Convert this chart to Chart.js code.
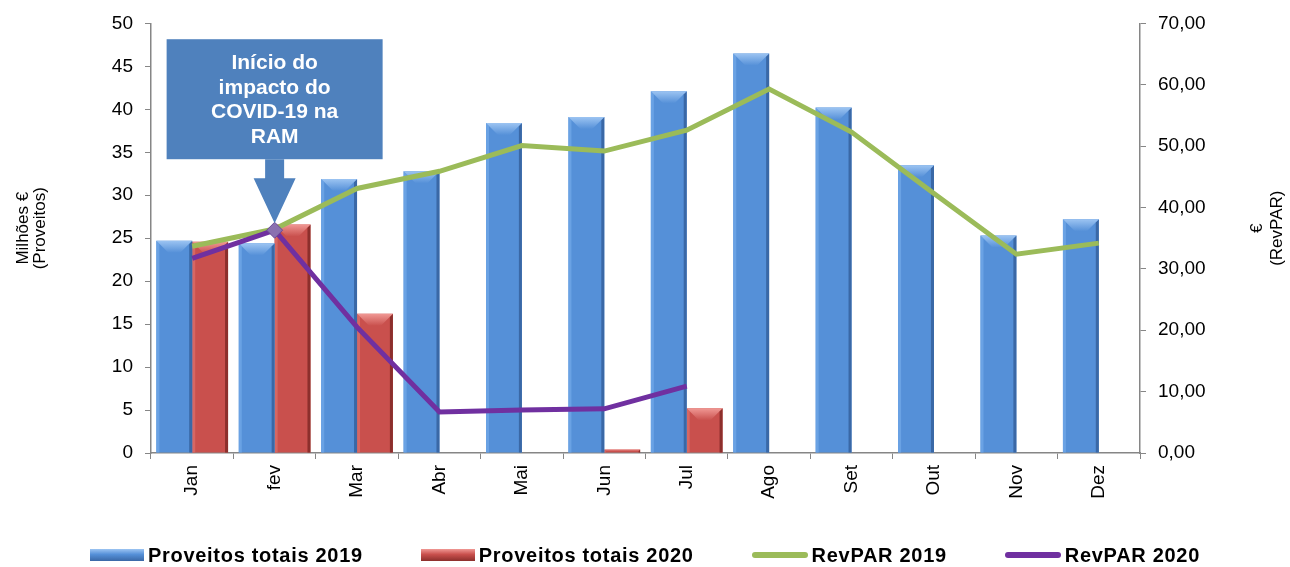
<!DOCTYPE html>
<html>
<head>
<meta charset="utf-8">
<script src="https://cdn.jsdelivr.net/npm/chart.js@4.4.0/dist/chart.umd.min.js"></script>
<style>
  body { margin: 0; background: #fff; }
  #wrap { position: relative; width: 1290px; height: 567px; }
  #legenda {
    position: absolute; left: 0; top: 543px; width: 1290px; height: 24px;
    display: flex; justify-content: center; gap: 58px;
    font: bold 20px Arial, "Liberation Sans", sans-serif; color: #000; line-height: 24px;
    letter-spacing: 0.7px;
  }
  .item { display: flex; align-items: center; }
  .caixa { width: 54px; height: 12px; margin-right: 4px; }
  .linha { width: 56px; height: 6px; border-radius: 3px; margin-right: 4px; }
</style>
</head>
<body>
<div id="wrap">
  <canvas id="grafico" width="1290" height="567"></canvas>
  <div id="legenda">
    <div class="item"><span class="caixa" style="background:linear-gradient(#9cc4f2,#5590d8 45%,#3a68a6)"></span>Proveitos totais 2019</div>
    <div class="item"><span class="caixa" style="background:linear-gradient(#f09894,#c9504d 45%,#8c2f2c)"></span>Proveitos totais 2020</div>
    <div class="item"><span class="linha" style="background:#9bbb59"></span>RevPAR 2019</div>
    <div class="item"><span class="linha" style="background:#7030a0"></span>RevPAR 2020</div>
  </div>
</div>
<script>
// Dados
var meses = ["Jan", "fev", "Mar", "Abr", "Mai", "Jun", "Jul", "Ago", "Set", "Out", "Nov", "Dez"];
var proveitos2019 = [24.7, 24.4, 31.9, 32.8, 38.4, 39.1, 42.1, 46.5, 40.2, 33.5, 25.3, 27.2];
var proveitos2020 = [24.6, 26.6, 16.2, null, null, 0.4, 5.2, null, null, null, null, null];
var revpar2019 = [33.7, 36.5, 43.1, 45.9, 50.1, 49.2, 52.6, 59.3, 52.3, 42.3, 32.4, 34.2];
var revpar2020 = [31.7, 36.3, 20.5, 6.7, 7.0, 7.2, 10.9, null, null, null, null, null];
var ticksProveitos = [0, 5, 10, 15, 20, 25, 30, 35, 40, 45, 50];
var ticksRevpar = [0, 10, 20, 30, 40, 50, 60, 70];
var textoAnotacao = ["Início do", "impacto do", "COVID-19 na", "RAM"];

var fonte = 'Arial, "Liberation Sans", sans-serif';
var corEixo = "#868686";

// Cores do relevo das barras (topo claro, lado esquerdo, lado direito escuro)
var coresRelevo = [
  { topo: "#9cc4f2", esq: "#6aa2e4", dir: "#3a68a6", base: "#5590d8" },
  { topo: "#f09894", esq: "#d66763", dir: "#8c2f2c", base: "#c9504d" },
];

var relevo = {
  id: "relevo",
  afterDatasetDraw: function (chart, args) {
    if (args.meta.type !== "bar") return;
    var c = coresRelevo[args.index];
    var ctx = chart.ctx;
    args.meta.data.forEach(function (bar) {
      var p = bar.getProps(["x", "y", "base", "width"], true);
      if (isNaN(p.y) || isNaN(p.base)) return;
      var alt = p.base - p.y;
      if (alt < 1) return;
      var esq = p.x - p.width / 2;
      var dir = p.x + p.width / 2;
      var topo = p.y;
      var d = Math.min(12, alt / 2);
      var s = Math.min(3, alt / 2);
      ctx.save();
      // lado esquerdo
      ctx.fillStyle = c.esq;
      ctx.beginPath();
      ctx.moveTo(esq, topo);
      ctx.lineTo(esq + s, topo + s);
      ctx.lineTo(esq + s, p.base);
      ctx.lineTo(esq, p.base);
      ctx.closePath();
      ctx.fill();
      // lado direito
      ctx.fillStyle = c.dir;
      ctx.beginPath();
      ctx.moveTo(dir, topo);
      ctx.lineTo(dir, p.base);
      ctx.lineTo(dir - s, p.base);
      ctx.lineTo(dir - s, topo + s);
      ctx.closePath();
      ctx.fill();
      // topo
      var g = ctx.createLinearGradient(0, topo, 0, topo + d);
      g.addColorStop(0, c.topo);
      g.addColorStop(1, c.base);
      ctx.fillStyle = g;
      ctx.beginPath();
      ctx.moveTo(esq, topo);
      ctx.lineTo(dir, topo);
      ctx.lineTo(dir - d, topo + d);
      ctx.lineTo(esq + d, topo + d);
      ctx.closePath();
      ctx.fill();
      ctx.restore();
    });
  },
};

// Caixa com seta apontando para fev 2020
var anotacao = {
  id: "anotacao",
  afterDatasetsDraw: function (chart) {
    var ponto = chart.getDatasetMeta(3).data[1];
    var px = ponto.x;
    var ponta = ponto.y - 7;
    var baseCaixa = ponta - 64;
    var topoCaixa = baseCaixa - 120;
    var larg = 216;
    var ctx = chart.ctx;
    ctx.save();
    ctx.fillStyle = "#4f81bd";
    ctx.fillRect(px - larg / 2, topoCaixa, larg, 120);
    ctx.beginPath();
    ctx.moveTo(px - 9.5, baseCaixa);
    ctx.lineTo(px + 9.5, baseCaixa);
    ctx.lineTo(px + 9.5, ponta - 45);
    ctx.lineTo(px + 21, ponta - 45);
    ctx.lineTo(px, ponta);
    ctx.lineTo(px - 21, ponta - 45);
    ctx.lineTo(px - 9.5, ponta - 45);
    ctx.closePath();
    ctx.fill();
    ctx.fillStyle = "#fff";
    ctx.font = "bold 21px " + fonte;
    ctx.textAlign = "center";
    ctx.textBaseline = "middle";
    var meio = topoCaixa + 61;
    for (var i = 0; i < textoAnotacao.length; i++) {
      ctx.fillText(textoAnotacao[i], px, meio + (i - 1.5) * 24.7);
    }
    ctx.restore();
  },
};

// Títulos dos eixos (rodados, lidos de baixo para cima)
var titulos = {
  id: "titulos",
  afterDraw: function (chart) {
    var ctx = chart.ctx;
    var cy = (chart.chartArea.top + chart.chartArea.bottom) / 2 - 10;
    function escrever(texto, x) {
      ctx.save();
      ctx.translate(x, cy);
      ctx.rotate(-Math.PI / 2);
      ctx.fillStyle = "#000";
      ctx.font = "17px " + fonte;
      ctx.textAlign = "center";
      ctx.textBaseline = "middle";
      ctx.fillText(texto, 0, 0);
      ctx.restore();
    }
    escrever("Milhões €", 23);
    escrever("(Proveitos)", 40);
    escrever("€", 1257);
    escrever("(RevPAR)", 1277);
  },
};

var ctx = document.getElementById("grafico").getContext("2d");

new Chart(ctx, {
  data: {
    labels: meses,
    datasets: [
      {
        type: "bar",
        label: "Proveitos totais 2019",
        data: proveitos2019,
        backgroundColor: coresRelevo[0].base,
        yAxisID: "y",
        order: 2,
        categoryPercentage: 0.87,
        barPercentage: 1,
      },
      {
        type: "bar",
        label: "Proveitos totais 2020",
        data: proveitos2020,
        backgroundColor: coresRelevo[1].base,
        yAxisID: "y",
        order: 2,
        categoryPercentage: 0.87,
        barPercentage: 1,
      },
      {
        type: "line",
        label: "RevPAR 2019",
        data: revpar2019,
        borderColor: "#9bbb59",
        borderWidth: 5,
        pointRadius: 0,
        tension: 0,
        yAxisID: "y1",
        order: 1,
      },
      {
        type: "line",
        label: "RevPAR 2020",
        data: revpar2020,
        borderColor: "#7030a0",
        borderWidth: 5,
        tension: 0,
        pointStyle: "rectRot",
        pointRadius: function (c) {
          return c.dataIndex === 1 ? 8 : 0;
        },
        pointBackgroundColor: "#8a70b0",
        pointBorderColor: "#6a4a96",
        pointBorderWidth: 1,
        yAxisID: "y1",
        order: 0,
      },
    ],
  },
  options: {
    responsive: false,
    animation: false,
    devicePixelRatio: 1,
    layout: {
      padding: { top: 23, bottom: 30, left: 0, right: 0 },
    },
    plugins: {
      legend: { display: false },
      tooltip: { enabled: false },
    },
    scales: {
      x: {
        offset: true,
        grid: {
          offset: true,
          drawOnChartArea: false,
          drawTicks: true,
          tickLength: 6,
          tickColor: corEixo,
        },
        border: { color: corEixo, width: 1.5 },
        ticks: {
          color: "#000",
          font: { family: fonte, size: 19 },
          maxRotation: 90,
          minRotation: 90,
          padding: 6,
          autoSkip: false,
        },
        afterFit: function (scale) {
          scale.height = 84;
        },
      },
      y: {
        position: "left",
        min: 0,
        max: 50,
        afterBuildTicks: function (scale) {
          scale.ticks = ticksProveitos.map(function (v) { return { value: v }; });
        },
        grid: {
          drawOnChartArea: false,
          tickLength: 6,
          tickColor: corEixo,
        },
        border: { color: corEixo, width: 1.5 },
        ticks: {
          color: "#000",
          font: { family: fonte, size: 19 },
          padding: 12,
        },
        afterFit: function (scale) {
          scale.width = 151;
        },
      },
      y1: {
        position: "right",
        min: 0,
        max: 70,
        afterBuildTicks: function (scale) {
          scale.ticks = ticksRevpar.map(function (v) { return { value: v }; });
        },
        grid: {
          drawOnChartArea: false,
          tickLength: 6,
          tickColor: corEixo,
        },
        border: { color: corEixo, width: 1.5 },
        ticks: {
          color: "#000",
          font: { family: fonte, size: 19 },
          padding: 12,
          callback: function (v) {
            return v.toFixed(2).replace(".", ",");
          },
        },
        afterFit: function (scale) {
          scale.width = 150;
        },
      },
    },
  },
  plugins: [relevo, anotacao, titulos],
});
</script>
</body>
</html>
